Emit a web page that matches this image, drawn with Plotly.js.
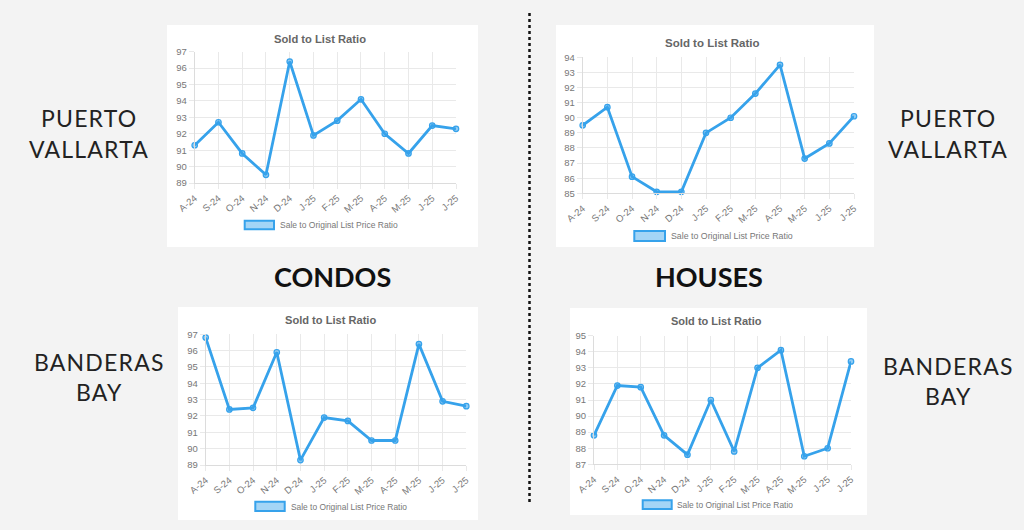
<!DOCTYPE html>
<html>
<head>
<meta charset="utf-8">
<script src="https://cdn.plot.ly/plotly-3.0.1.min.js"></script>
<style>
html,body{margin:0;padding:0;background:#f3f3f3;}
#chart{width:1024px;height:530px;}
</style>
</head>
<body>
<div id="chart"></div>
<script>
const monthLabels = ['A-24','S-24','O-24','N-24','D-24','J-25','F-25','M-25','A-25','M-25','J-25','J-25'];
const pvCondos  = [91.3, 92.7, 90.8, 89.5, 96.4, 91.9, 92.8, 94.1, 92.0, 90.8, 92.5, 92.3];
const pvHouses  = [89.5, 90.7, 86.1, 85.1, 85.1, 89.0, 90.0, 91.6, 93.5, 87.3, 88.3, 90.1];
const bbCondos  = [96.8, 92.4, 92.5, 95.9, 89.3, 91.9, 91.7, 90.5, 90.5, 96.4, 92.9, 92.6];
const bbHouses  = [88.8, 91.9, 91.8, 88.8, 87.6, 91.0, 87.8, 93.0, 94.1, 87.5, 88.0, 93.4];
const chartTitle = 'Sold to List Ratio';
const seriesName = 'Sale to Original List Price Ratio';
const yRanges = [[89, 97], [85, 94], [89, 97], [87, 95]];

const W = 1024, H = 530;
const px = x => x / W;
const py = y => 1 - y / H;
const blue = 'rgb(54,162,235)';
const grid = '#e9e9e9';
const tickColor = '#777';
const baseFont = 'Liberation Sans, Arial, Helvetica, sans-serif';

const panels = [
  {data: pvCondos, plot: [194.7, 456, 51.7, 183], box: [167, 25, 478, 247], title: [320, 38.5, 11.2],
   leg: [244.7, 220.7, 274, 229.3], legText: [278, 225, 8.5]},
  {data: pvHouses, plot: [582.7, 854, 57.3, 193.3], box: [556, 25, 874, 247], title: [712, 42.7, 11.5],
   leg: [634.3, 231, 665, 241], legText: [669, 236, 8.8]},
  {data: bbCondos, plot: [205.7, 466.3, 334.3, 465], box: [178, 307, 478, 520], title: [330, 320.3, 11.1],
   leg: [255.3, 501.7, 284.7, 511], legText: [288.7, 506.7, 8.4]},
  {data: bbHouses, plot: [594, 851, 335.7, 464.3], box: [570, 308, 867, 515], title: [716.7, 321, 11],
   leg: [642.7, 500.3, 671.7, 509], legText: [675.3, 505, 8.4]}
];

const traces = [];
const layout = {
  width: W, height: H,
  margin: {l: 0, r: 0, t: 0, b: 0},
  paper_bgcolor: '#f3f3f3',
  plot_bgcolor: 'white',
  showlegend: false,
  shapes: [],
  annotations: []
};

const xIdx = monthLabels.map((_, i) => i);

panels.forEach((p, k) => {
  const n = k === 0 ? '' : String(k + 1);
  traces.push({
    x: xIdx, y: p.data,
    xaxis: 'x' + n, yaxis: 'y' + n,
    type: 'scatter', mode: 'lines+markers',
    name: seriesName,
    line: {color: blue, width: 2.8},
    marker: {color: 'rgba(54,162,235,0.55)', size: 5.5, line: {color: blue, width: 1.2}},
    cliponaxis: false,
    hoverinfo: 'x+y'
  });
  const yr = yRanges[k];
  const ticks = [];
  for (let v = yr[0]; v <= yr[1]; v++) ticks.push(v);
  layout['xaxis' + n] = {
    domain: [px(p.plot[0]), px(p.plot[1])],
    anchor: 'y' + n,
    range: [0, monthLabels.length - 1],
    tickmode: 'array', tickvals: xIdx, ticktext: monthLabels,
    tickangle: -40,
    showgrid: true, gridcolor: grid, gridwidth: 1,
    zeroline: false,
    showline: true, linecolor: '#dcdcdc', linewidth: 1,
    ticks: 'outside', ticklen: 5, tickcolor: grid,
    tickfont: {family: baseFont, size: 9.5, color: tickColor},
    fixedrange: true
  };
  layout['yaxis' + n] = {
    domain: [py(p.plot[3]), py(p.plot[2])],
    anchor: 'x' + n,
    range: yr,
    tickmode: 'array', tickvals: ticks,
    showgrid: true, gridcolor: grid, gridwidth: 1,
    zeroline: false,
    showline: true, linecolor: '#dcdcdc', linewidth: 1,
    ticks: 'outside', ticklen: 5, tickcolor: grid,
    tickfont: {family: baseFont, size: 9.5, color: tickColor},
    fixedrange: true
  };
  layout.shapes.push({type: 'rect', xref: 'paper', yref: 'paper', layer: 'below',
    x0: px(p.box[0]), x1: px(p.box[2]), y0: py(p.box[3]), y1: py(p.box[1]),
    fillcolor: 'white', line: {width: 0}});
  layout.shapes.push({type: 'rect', xref: 'paper', yref: 'paper', layer: 'above',
    x0: px(p.leg[0]), x1: px(p.leg[2]), y0: py(p.leg[3]), y1: py(p.leg[1]),
    fillcolor: 'rgba(54,162,235,0.45)', line: {color: blue, width: 2}});
  layout.annotations.push({xref: 'paper', yref: 'paper', x: px(p.legText[0]), y: py(p.legText[1]),
    xanchor: 'left', yanchor: 'middle', showarrow: false, text: seriesName,
    font: {family: baseFont, size: p.legText[2], color: '#777'}});
  layout.annotations.push({xref: 'paper', yref: 'paper', x: px(p.title[0]), y: py(p.title[1]),
    xanchor: 'center', yanchor: 'middle', showarrow: false, text: '<b>' + chartTitle + '</b>',
    font: {family: baseFont, size: p.title[2], color: '#666'}});
});

layout.shapes.push({type: 'line', xref: 'paper', yref: 'paper',
  x0: px(529.5), x1: px(529.5), y0: py(13), y1: py(503),
  line: {color: '#111', width: 2.5, dash: 'dot'}});

const bigFont = {family: 'Lato, Noto Sans, sans-serif', size: 23, color: '#222', weight: 400};
const sideLabels = [
  {t: 'PUERTO', x: 89, y: 117.5}, {t: 'VALLARTA', x: 89, y: 148.5},
  {t: 'PUERTO', x: 948, y: 117.5}, {t: 'VALLARTA', x: 948, y: 148.5},
  {t: 'BANDERAS', x: 99, y: 362}, {t: 'BAY', x: 99, y: 392},
  {t: 'BANDERAS', x: 948, y: 366}, {t: 'BAY', x: 948, y: 396}
];
sideLabels.forEach(s => layout.annotations.push({xref: 'paper', yref: 'paper', x: px(s.x), y: py(s.y),
  xanchor: 'center', yanchor: 'middle', showarrow: false,
  text: '<span style="letter-spacing:1.2px">' + s.t + '</span>', font: bigFont}));

const headFont = {family: 'Lato, Noto Sans, sans-serif', size: 27, color: '#111', weight: 700};
layout.annotations.push({xref: 'paper', yref: 'paper', x: px(332), y: py(276), xanchor: 'center', yanchor: 'middle',
  showarrow: false, text: '<b>CONDOS</b>', font: headFont});
layout.annotations.push({xref: 'paper', yref: 'paper', x: px(709), y: py(276), xanchor: 'center', yanchor: 'middle',
  showarrow: false, text: '<b>HOUSES</b>', font: headFont});

Plotly.newPlot('chart', traces, layout, {displayModeBar: false, staticPlot: true});
</script>
</body>
</html>
